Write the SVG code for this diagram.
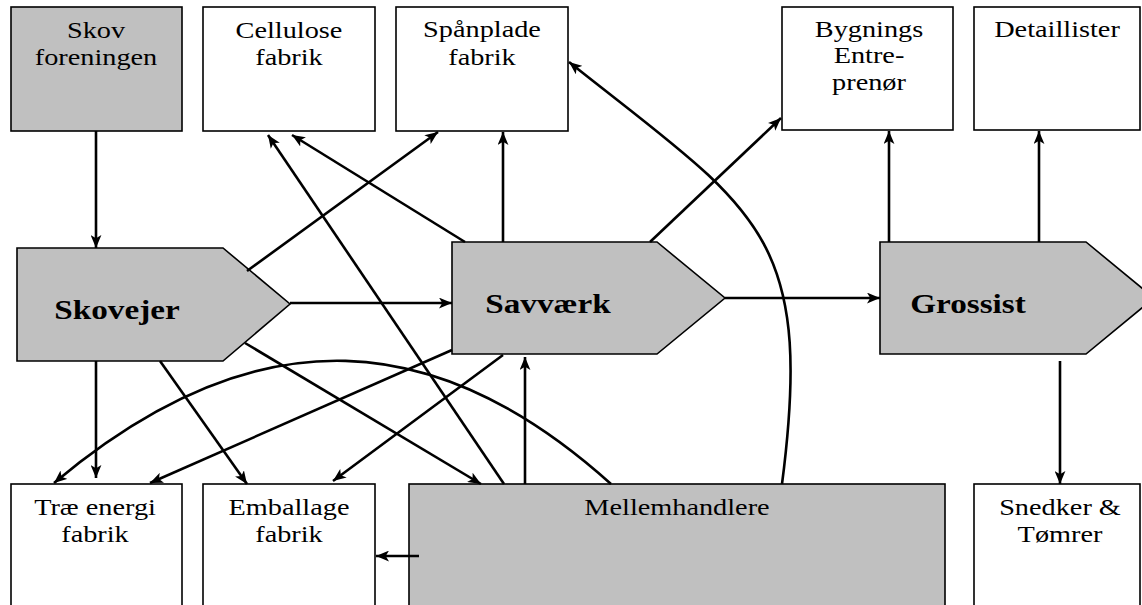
<svg xmlns="http://www.w3.org/2000/svg" width="1142" height="605" viewBox="0 0 1142 605">
<style>
.box{fill:#ffffff;stroke:#000;stroke-width:1.6}
.gbox{fill:#c0c0c0;stroke:#000;stroke-width:1.6}
.t{font-family:"Liberation Serif","Times New Roman",serif;font-size:23px;fill:#000;text-anchor:middle}
.b{font-family:"Liberation Serif","Times New Roman",serif;font-size:27px;font-weight:bold;fill:#000;text-anchor:middle}
.c{fill:none;stroke:#000;stroke-width:2.6;marker-end:url(#ah)}
.n{fill:none;stroke:#000;stroke-width:2.6}
</style>
<defs>
<marker id="ah" viewBox="0 0 12 10" refX="12" refY="5" markerWidth="13" markerHeight="11" markerUnits="userSpaceOnUse" orient="auto">
<path d="M0,0 L12,5 L0,10 L3,5 z" fill="#000"/>
</marker>
</defs>
<rect width="1142" height="605" fill="#fff"/>

<g id="skovforeningen">
<rect class="gbox" x="11" y="7" width="171" height="124"/>
<text class="t" transform="translate(96,38) scale(1.23,1)">Skov</text>
<text class="t" transform="translate(96,65) scale(1.23,1)">foreningen</text>
</g>
<g id="cellulose">
<rect class="box" x="203" y="7" width="172" height="124"/>
<text class="t" transform="translate(289,38) scale(1.23,1)">Cellulose</text>
<text class="t" transform="translate(289,65) scale(1.23,1)">fabrik</text>
</g>
<g id="spaanplade">
<rect class="box" x="396" y="7" width="172" height="124"/>
<text class="t" transform="translate(482,37) scale(1.23,1)">Spånplade</text>
<text class="t" transform="translate(482,65) scale(1.23,1)">fabrik</text>
</g>
<g id="bygnings">
<rect class="box" x="782" y="7" width="171" height="123"/>
<text class="t" transform="translate(869,37) scale(1.23,1)">Bygnings</text>
<text class="t" transform="translate(869,63) scale(1.23,1)">Entre-</text>
<text class="t" transform="translate(869,90) scale(1.23,1)">prenør</text>
</g>
<g id="detaillister">
<rect class="box" x="974" y="7" width="166" height="123"/>
<text class="t" transform="translate(1057,37) scale(1.23,1)">Detaillister</text>
</g>

<g id="skovejer">
<polygon class="gbox" points="17,248 223,248 290,304 223,361 17,361"/>
<text class="b" transform="translate(117,319) scale(1.23,1)">Skovejer</text>
</g>
<g id="savvaerk">
<polygon class="gbox" points="452,242 657,242 725,298 657,354 452,354"/>
<text class="b" transform="translate(548,313) scale(1.23,1)">Savværk</text>
</g>
<g id="grossist">
<polygon class="gbox" points="880,242 1086,242 1154,298 1086,354 880,354"/>
<text class="b" transform="translate(968,313) scale(1.23,1)">Grossist</text>
</g>

<g id="traeenergi">
<rect class="box" x="11" y="484" width="171" height="140"/>
<text class="t" transform="translate(95,515) scale(1.23,1)">Træ energi</text>
<text class="t" transform="translate(95,542) scale(1.23,1)">fabrik</text>
</g>
<g id="emballage">
<rect class="box" x="203" y="484" width="172" height="140"/>
<text class="t" transform="translate(289,515) scale(1.23,1)">Emballage</text>
<text class="t" transform="translate(289,542) scale(1.23,1)">fabrik</text>
</g>
<g id="mellemhandlere">
<rect class="gbox" x="409" y="484" width="536" height="140"/>
<text class="t" transform="translate(677,515) scale(1.23,1)">Mellemhandlere</text>
</g>
<g id="snedker">
<rect class="box" x="974" y="484" width="166" height="140"/>
<text class="t" transform="translate(1060,515) scale(1.23,1)">Snedker &amp;</text>
<text class="t" transform="translate(1060,542) scale(1.23,1)">Tømrer</text>
</g>

<g id="connectors">
<path class="c" d="M96,131 L96,248"/>
<path class="c" d="M290,303 L452,303"/>
<path class="c" d="M725,298 L880,298"/>
<path class="c" d="M247,271 L438,132"/>
<path class="c" d="M465,242 L292,135"/>
<path class="c" d="M504,484 L268,135"/>
<path class="c" d="M503,242 L503,132"/>
<path class="c" d="M650,242 L781,118"/>
<path class="c" d="M889,242 L889,131"/>
<path class="c" d="M1039,242 L1039,131"/>
<path class="c" d="M1060,361 L1060,484"/>
<path class="c" d="M96,361 L96,478"/>
<path class="c" d="M160,361 L247,484"/>
<path class="c" d="M245,343 L481,484"/>
<path class="c" d="M452,350 L150,483"/>
<path class="c" d="M503,355 L333,481"/>
<path class="c" d="M525,484 L525,357"/>
<path class="c" d="M611,484 C440,330 260,310 54,483"/>
<path class="c" d="M782,484 C815,230 755,210 569,62"/>
<path class="c" d="M419,556 L376,556"/>
</g>
</svg>
